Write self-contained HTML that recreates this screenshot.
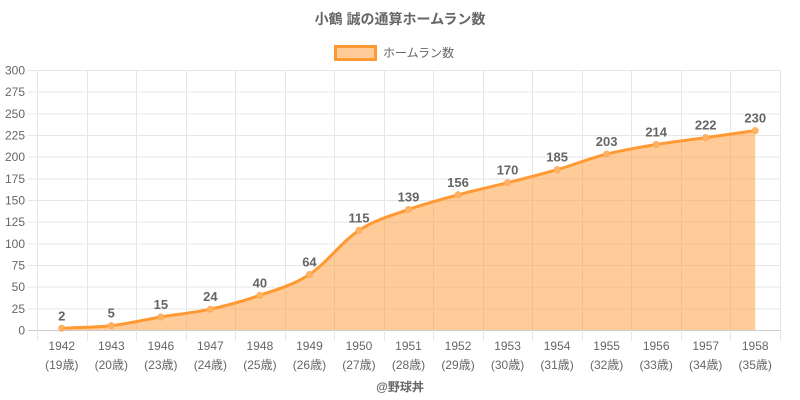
<!DOCTYPE html>
<html><head><meta charset="utf-8"><style>
body{margin:0;background:#fff;}
svg{display:block;font-family:"Liberation Sans","Noto Sans CJK JP",sans-serif;}
</style></head><body>
<svg id="c" width="800" height="400" xmlns="http://www.w3.org/2000/svg">
<text x="400" y="24" text-anchor="middle" font-size="14" font-weight="bold" fill="#666">小鶴 誠の通算ホームラン数</text>
<rect x="335.5" y="46.5" width="40" height="13" fill="#ffcc99" stroke="#ff9933" stroke-width="3"/>
<text x="383" y="57" font-size="12" fill="#666">ホームラン数</text>
<g id="g"></g>
<text x="400" y="391" text-anchor="middle" font-size="12" font-weight="bold" fill="#666">@野球丼</text>
</svg>
<script>
const g=document.getElementById('g');let s='';
const L=37,R=780,T=70,B=330;
const yv=v=>B-v*(B-T)/300;
for(let v=0;v<=300;v+=25){const y=yv(v)+0.5;s+=`<line x1="28" x2="${R}" y1="${y}" y2="${y}" stroke="${v==0?'#ccc':'#e6e6e6'}"/>`;s+=`<text x="25" y="${y+4}" text-anchor="end" font-size="12" fill="#666">${v}</text>`;}
const yrs=[1942,1943,1946,1947,1948,1949,1950,1951,1952,1953,1954,1955,1956,1957,1958];
const ages=[19,20,23,24,25,26,27,28,29,30,31,32,33,34,35];
const d=[2,5,15,24,40,64,115,139,156,170,185,203,214,222,230];
const w=(R-L)/15;
for(let i=0;i<=15;i++){const x=Math.round(L+i*w)+0.5;s+=`<line x1="${x}" x2="${x}" y1="${T}" y2="341" stroke="#e6e6e6"/>`;}
const P=d.map((v,i)=>[L+w*(i+0.5),yv(v)]);
yrs.forEach((y,i)=>{s+=`<text x="${P[i][0]}" y="350" text-anchor="middle" font-size="12" fill="#666">${y}</text><text x="${P[i][0]}" y="369" text-anchor="middle" font-size="12" fill="#666">(${ages[i]}歳)</text>`;});
const n=P.length,dx=[],m=[],t=[];
for(let i=0;i<n-1;i++){dx[i]=P[i+1][0]-P[i][0];m[i]=(P[i+1][1]-P[i][1])/dx[i];}
t[0]=m[0];t[n-1]=m[n-2];for(let i=1;i<n-1;i++){t[i]=(m[i-1]*m[i]<=0)?0:(m[i-1]+m[i])/2;}
for(let i=0;i<n-1;i++){if(m[i]==0){t[i]=t[i+1]=0;continue;}const a=t[i]/m[i],b=t[i+1]/m[i],h=a*a+b*b;if(h>9){const k=3/Math.sqrt(h);t[i]=k*a*m[i];t[i+1]=k*b*m[i];}}
let p=`M${P[0][0]},${P[0][1]}`;
for(let i=0;i<n-1;i++){const h=dx[i]/3;p+=` C${P[i][0]+h},${P[i][1]+t[i]*h} ${P[i+1][0]-h},${P[i+1][1]-t[i+1]*h} ${P[i+1][0]},${P[i+1][1]}`;}
s+=`<path d="${p} L${P[n-1][0]},${B} L${P[0][0]},${B}Z" fill="rgba(255,153,51,0.5)"/>`;
s+=`<path d="${p}" fill="none" stroke="#ff9933" stroke-width="3"/>`;
P.forEach((q,i)=>{s+=`<circle cx="${q[0]}" cy="${q[1]}" r="3" fill="#ffb366" stroke="#ffaa55"/>`;s+=`<text x="${q[0]}" y="${q[1]-8}" text-anchor="middle" font-size="13" font-weight="bold" fill="#666">${d[i]}</text>`;});
g.innerHTML=s;
</script>
</body></html>
